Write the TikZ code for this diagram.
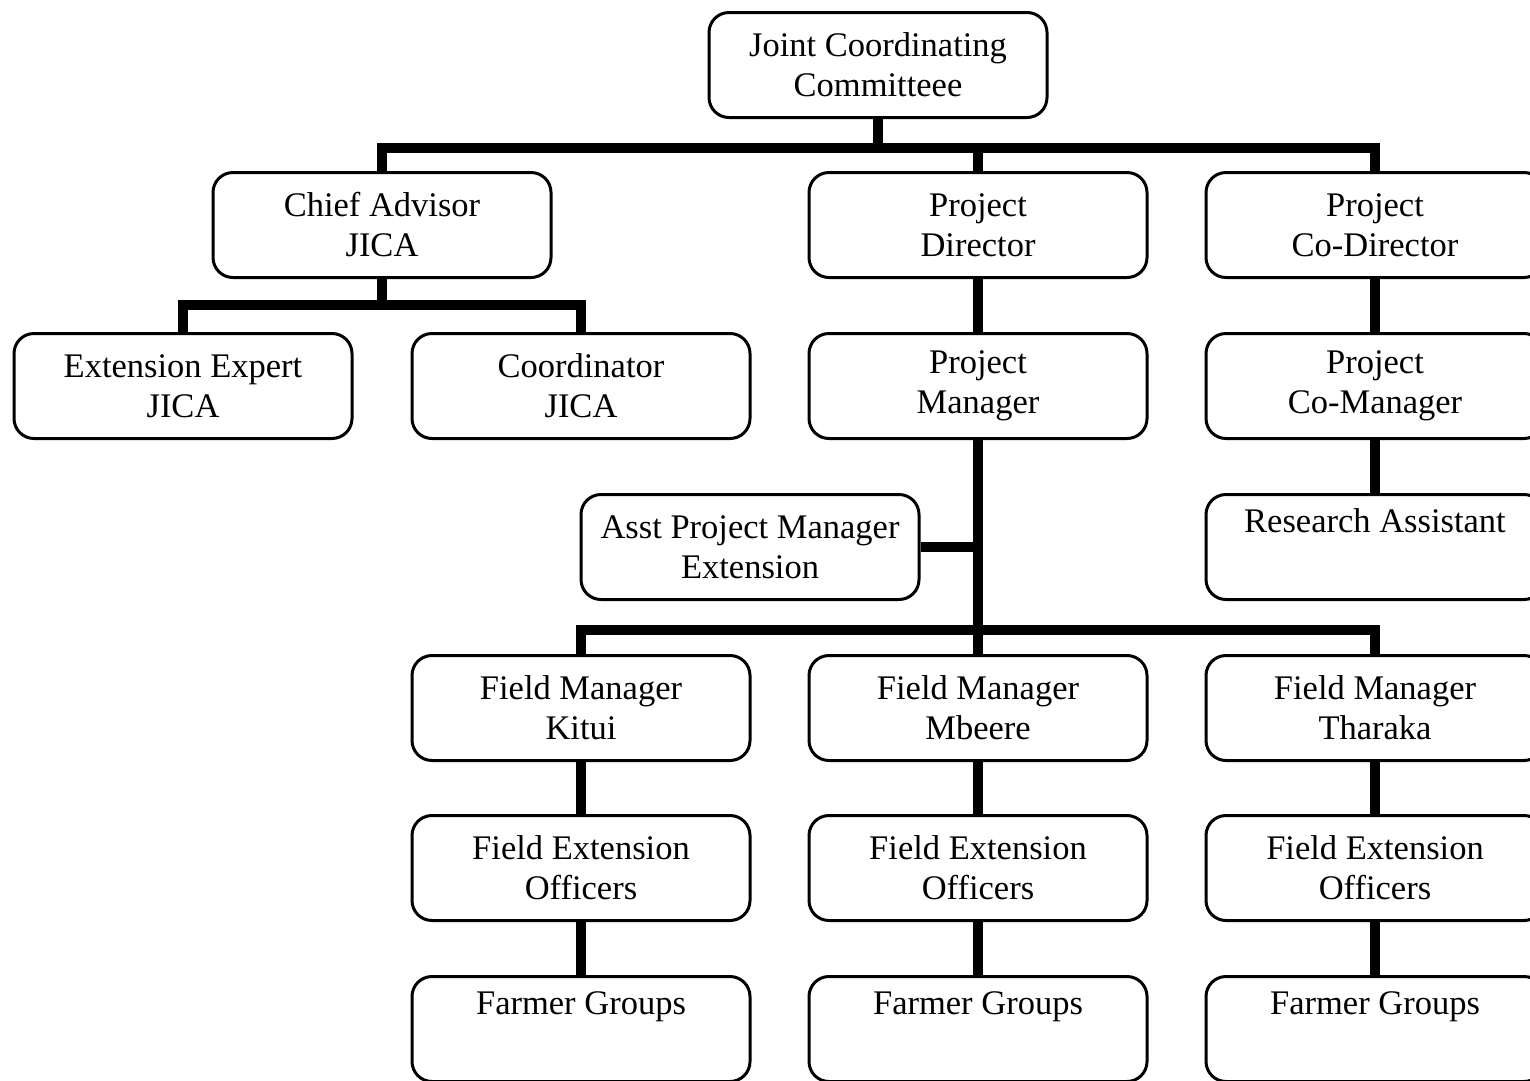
\documentclass[tikz,border=0pt]{standalone}
\usepackage{fontspec}
\setmainfont{Liberation Serif}
\usepackage{tikz}

\begin{document}
\begin{tikzpicture}[x=1pt,y=-1pt,
  box/.style={draw,rounded corners=20pt,line width=3pt,minimum width=338pt,minimum height=105pt,
    align=center,font=\fontsize{34.5}{40}\selectfont},
  link/.style={line width=9.5pt}]
\useasboundingbox (0,0) rectangle (1530,1080);

% Committee
\node[box] (jcc) at (878,65) {Joint Coordinating\\Committeee};

% Directors
\node[box] (ca) at (382,225) {Chief Advisor\\JICA};
\node[box] (pd) at (978,225) {Project\\Director};
\node[box] (pcd) at (1375,225) {Project\\Co-Director};

% Managers
\node[box] (ee) at (183,386) {Extension Expert\\JICA};
\node[box] (co) at (581,386) {Coordinator\\JICA};
\node[box] (pm) at (978,386) {Project\\Manager};
\node[box] (pcm) at (1375,386) {Project\\Co-Manager};

% Assistants
\node[box] (apm) at (750,547) {Asst Project Manager\\Extension};
\node[box] (ra) at (1375,547) {Research Assistant\\\strut};

% Field managers
\node[box] (fm1) at (581,708) {Field Manager\\Kitui};
\node[box] (fm2) at (978,708) {Field Manager\\Mbeere};
\node[box] (fm3) at (1375,708) {Field Manager\\Tharaka};

% Officers
\node[box] (feo1) at (581,868) {Field Extension\\Officers};
\node[box] (feo2) at (978,868) {Field Extension\\Officers};
\node[box] (feo3) at (1375,868) {Field Extension\\Officers};

% Farmers
\node[box] (fg1) at (581,1029) {Farmer Groups\\\strut};
\node[box] (fg2) at (978,1029) {Farmer Groups\\\strut};
\node[box] (fg3) at (1375,1029) {Farmer Groups\\\strut};

% Bus points
\coordinate (jccbus) at (878,148);
\coordinate (cabus) at (382,305);
\coordinate (pmbus) at (978,630);

% Links
\draw[link] (jcc.south) -- (jccbus);
\draw[link] (jccbus) -| (ca.north);
\draw[link] (jccbus) -| (pd.north);
\draw[link] (jccbus) -| (pcd.north);
\draw[link] (ca.south) -- (cabus);
\draw[link] (cabus) -| (ee.north);
\draw[link] (cabus) -| (co.north);
\draw[link] (pd) -- (pm);
\draw[link] (pcd) -- (pcm);
\draw[link] (pcm) -- (ra);
\draw[link] (pm.south) -- (pmbus);
\draw[link] (apm.east) -- (apm.east -| pm.south);
\draw[link] (pmbus) -| (fm1.north);
\draw[link] (pmbus) -- (fm2.north);
\draw[link] (pmbus) -| (fm3.north);
\draw[link] (fm1) -- (feo1);
\draw[link] (fm2) -- (feo2);
\draw[link] (fm3) -- (feo3);
\draw[link] (feo1) -- (fg1);
\draw[link] (feo2) -- (fg2);
\draw[link] (feo3) -- (fg3);
\end{tikzpicture}
\end{document}
